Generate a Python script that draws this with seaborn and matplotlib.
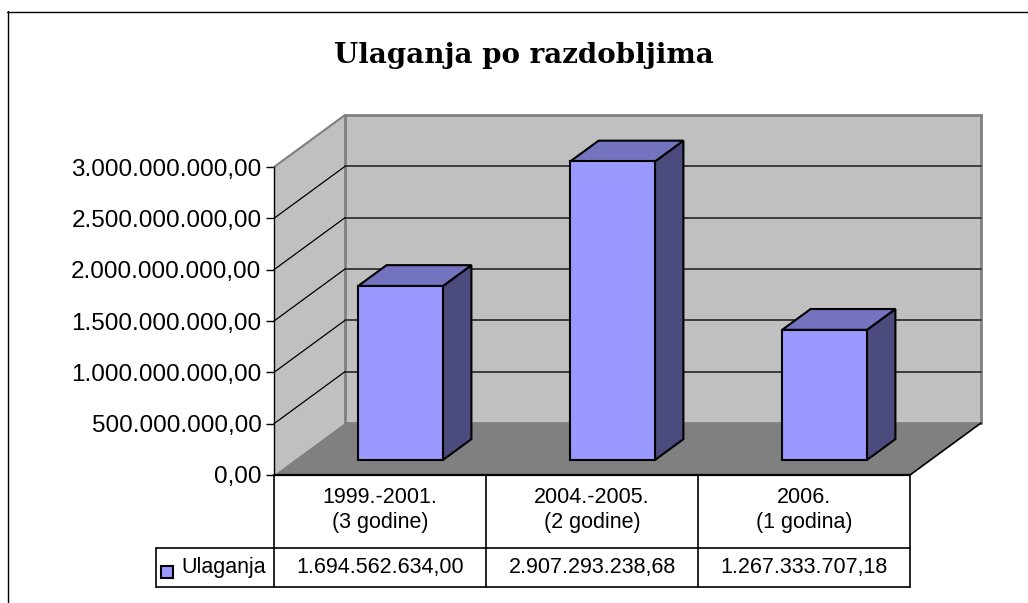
import numpy as np
import pandas as pd
import matplotlib
matplotlib.use("Agg")

import matplotlib.pyplot as plt
from matplotlib.patches import Polygon, Rectangle
from matplotlib.lines import Line2D
from matplotlib.transforms import Affine2D
import seaborn as sns

# data
periods = ["1999.-2001.", "2004.-2005.", "2006."]
durations = ["(3 godine)", "(2 godine)", "(1 godina)"]
values = [1694562634.00, 2907293238.68, 1267333707.18]
series_name = "Ulaganja"
title = "Ulaganja po razdobljima"
y_ticks = [0, 5e8, 1e9, 1.5e9, 2e9, 2.5e9, 3e9]


def hr_format(v):
    s = f"{v:,.2f}"
    return s.replace(",", "X").replace(".", ",").replace("X", ".")


W, H = 1028, 603
sns.set_theme(style="white")
plt.rcParams["font.family"] = ["Liberation Sans", "DejaVu Sans"]
plt.rcParams["text.color"] = "black"

fig = plt.figure(figsize=(W / 100, H / 100), dpi=100)
ax = fig.add_axes([274 / W, 128 / H, 636 / W, 360 / H])

# pseudo 3D geometry, in data units
n = len(values)
DX = 71 / 212            # depth along x (category units)
PX = 5e8 / 51.33         # value per pixel
DY = 52 * PX             # depth along y (value units)
YTOP = 360 * PX
F0, FD = 0.29, 0.40      # bar front offset / bar depth (fraction of full depth)
BW = 0.4
WALL = y_ticks[-1]
x0, x1 = -0.5, n - 0.5

df = pd.DataFrame({"period": periods, "value": values})
sns.barplot(data=df, x="period", y="value", width=BW, color="#9999FF",
            saturation=1, errorbar=None, edgecolor="black", linewidth=1.5,
            ax=ax, zorder=4)

# push the front faces back into the box
shift = Affine2D().translate(F0 * DX, F0 * DY)
for p in ax.patches:
    p.set_transform(shift + ax.transData)

# walls and floor
ax.add_patch(Polygon([(x0, 0), (x0 + DX, DY), (x0 + DX, DY + WALL), (x0, WALL)],
                     closed=True, fc="#C0C0C0", ec="none", zorder=0.5, clip_on=False))
ax.add_patch(Rectangle((x0 + DX, DY), n, WALL, fc="#C0C0C0", ec="#808080", lw=2,
                       zorder=0.6, clip_on=False))
ax.add_patch(Polygon([(x0, 0), (x0 + DX, DY), (x1 + DX, DY), (x1, 0)],
                     closed=True, fc="#808080", ec="none", zorder=0.7, clip_on=False))
ax.plot([x0, x0 + DX], [WALL, WALL + DY], color="#808080", lw=1.5, zorder=0.8, clip_on=False)
ax.plot([x1, x1 + DX], [0, DY], color="black", lw=1.2, zorder=0.8, clip_on=False)

for t in y_ticks[1:-1]:
    ax.plot([x0 + DX, x1 + DX], [DY + t, DY + t], color="#333333", lw=1.3, zorder=0.8, clip_on=False)
    ax.plot([x0, x0 + DX], [t, DY + t], color="black", lw=0.9, zorder=0.8, clip_on=False)

# sides and tops of bars
for i, v in enumerate(values):
    xl = i - BW / 2 + F0 * DX
    xr = xl + BW
    b = F0 * DY
    ddx, ddy = FD * DX, FD * DY
    ax.add_patch(Polygon([(xr, b), (xr + ddx, b + ddy), (xr + ddx, b + ddy + v), (xr, b + v)],
                         closed=True, fc="#4B4B7E", ec="black", lw=1.5, zorder=3.5))
    ax.add_patch(Polygon([(xl, b + v), (xr, b + v), (xr + ddx, b + v + ddy), (xl + ddx, b + v + ddy)],
                         closed=True, fc="#7373BF", ec="black", lw=1.5, zorder=3.5))

ax.set_xlim(x0, x1)
ax.set_ylim(0, YTOP)
ax.patch.set_visible(False)
for s in ["top", "right", "bottom"]:
    ax.spines[s].set_visible(False)
ax.spines["left"].set_bounds(0, WALL)
ax.spines["left"].set_color("black")
ax.spines["left"].set_linewidth(1)
ax.spines["left"].set_zorder(5)
ax.set_xticks([])
ax.set_yticks(y_ticks)
ax.set_yticklabels([hr_format(t) for t in y_ticks])
ax.tick_params(axis="y", left=True, direction="out", length=6, width=1,
               pad=3, labelsize=17.5, colors="black")
ax.set_xlabel("")
ax.set_ylabel("")

# data table under the plot
tr = ax.get_xaxis_transform()
fy = lambda py: (475 - py) / 360
fx = lambda px: (px - 274) / 212 - 0.5
r1, r2 = fy(548), fy(587)
xl_leg = fx(156)
lk = dict(color="black", lw=1.2, transform=tr, clip_on=False, zorder=6)
ax.add_line(Line2D([x0, x1], [0, 0], **dict(lk, lw=1.6)))
for k in range(n + 1):
    ax.add_line(Line2D([x0 + k, x0 + k], [0, r2], **lk))
ax.add_line(Line2D([xl_leg, x1], [r1, r1], **lk))
ax.add_line(Line2D([xl_leg, x1], [r2, r2], **lk))
ax.add_line(Line2D([xl_leg, xl_leg], [r1, r2], **lk))

for i in range(n):
    ax.text(i, fy(510), f"{periods[i]}\n{durations[i]}", transform=tr, ha="center",
            va="center", fontsize=15.5, linespacing=1.25, color="black")
    ax.text(i, fy(568), hr_format(values[i]), transform=tr, ha="center",
            va="center", fontsize=15.5, color="black")

ax.add_patch(Rectangle((fx(161), fy(578)), 12 / 212, 12 / 360,
                       transform=tr, fc="#9999FF", ec="black", lw=1.5, clip_on=False))
ax.text(fx(181), fy(568), series_name, transform=tr, ha="left",
        va="center", fontsize=15.5, color="black")

# chart frame (left and top only visible)
fig.add_artist(Line2D([7.5 / W, 7.5 / W], [0, 1 - 11 / H], color="black", lw=1,
                      transform=fig.transFigure))
fig.add_artist(Line2D([7 / W, 1], [1 - 11.5 / H, 1 - 11.5 / H], color="black", lw=1,
                      transform=fig.transFigure))

fig.text(524 / W, 1 - 63 / H, title, ha="center", va="baseline", fontsize=20,
         fontweight="bold", family=["DejaVu Serif"], color="black")

fig.savefig("out.png", dpi=100)
plt.close(fig)
